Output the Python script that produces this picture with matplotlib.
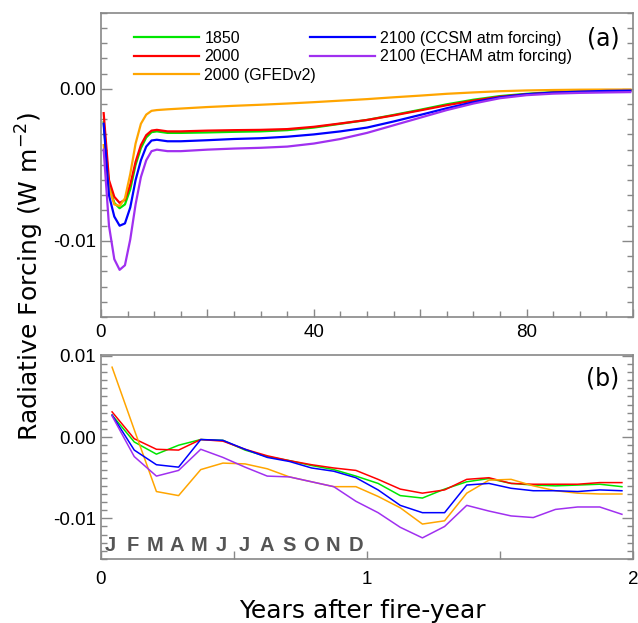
import numpy as np
import matplotlib
matplotlib.use("Agg")
import matplotlib.pyplot as plt
from matplotlib.ticker import FixedLocator, MultipleLocator
import matplotlib.transforms as mtransforms

plt.rcParams['axes.unicode_minus'] = False

# ---- panel (a): years after fire-year, forcing in W m-2 ----
years = [0.5, 1.5, 2.5, 3.5, 4.5, 5.5, 6.5, 7.5, 8.5, 9.5, 10.5, 12.5, 15, 20, 25,
         30, 35, 40, 45, 50, 55, 60, 65, 70, 75, 80, 85, 90, 95, 99.5]
rf_1850 = [-0.0022, -0.0064, -0.0075, -0.00785, -0.0076, -0.0066, -0.0050, -0.0039, -0.0032, -0.00285,
           -0.0028, -0.0029, -0.0029, -0.00287, -0.00283, -0.0028, -0.00272, -0.00255, -0.0023, -0.00205,
           -0.00172, -0.00138, -0.00102, -0.00072, -0.00048, -0.00033, -0.00022, -0.00016, -0.00012, -0.0001]
rf_2000 = [-0.0016, -0.0060, -0.0071, -0.0075, -0.0073, -0.0063, -0.0048, -0.0037, -0.00305, -0.00275,
           -0.0027, -0.0028, -0.0028, -0.00275, -0.00272, -0.0027, -0.00265, -0.0025, -0.00228, -0.00205,
           -0.00175, -0.00142, -0.00108, -0.00078, -0.00052, -0.00036, -0.00025, -0.00018, -0.00013, -0.0001]
rf_gfed = [-0.0037, -0.0065, -0.0076, -0.0077, -0.0072, -0.0056, -0.0036, -0.0023, -0.0017, -0.00145,
           -0.0014, -0.00135, -0.0013, -0.0012, -0.00112, -0.00105, -0.00097, -0.00088, -0.00078, -0.00068,
           -0.00056, -0.00045, -0.00033, -0.00024, -0.00016, -0.00011, -0.00008, -0.00006, -0.00005, -0.00005]
rf_ccsm = [-0.0023, -0.0070, -0.0084, -0.0090, -0.00885, -0.0078, -0.0060, -0.0047, -0.0038, -0.0034,
           -0.00335, -0.00345, -0.00345, -0.00338, -0.0033, -0.00325, -0.00315, -0.0030, -0.0028, -0.00255,
           -0.00215, -0.00172, -0.00128, -0.00088, -0.00056, -0.00036, -0.00025, -0.00019, -0.00014, -0.00012]
rf_echam = [-0.0040, -0.0090, -0.0112, -0.0119, -0.0116, -0.0099, -0.0076, -0.0058, -0.0047, -0.0041,
            -0.0040, -0.0041, -0.0041, -0.0040, -0.00393, -0.00388, -0.0038, -0.0036, -0.0033, -0.0029,
            -0.0024, -0.0019, -0.0014, -0.00097, -0.00062, -0.00042, -0.00032, -0.00027, -0.00024, -0.00022]

# ---- panel (b): monthly values over the first two years (x 1e-3 W m-2) ----
month_idx = np.arange(24)
months_x = (month_idx + 0.5) / 12.0
mo_1850 = [2.7, -0.6, -2.1, -1.0, -0.3, -0.4, -1.6, -2.4, -2.9, -3.5, -4.0, -4.8,
           -5.7, -7.2, -7.5, -6.4, -5.5, -5.1, -5.7, -5.9, -6.0, -5.9, -5.8, -6.1]
mo_2000 = [3.1, -0.2, -1.5, -1.6, -0.3, -0.5, -1.5, -2.3, -2.9, -3.4, -3.8, -4.1,
           -5.2, -6.4, -6.9, -6.5, -5.2, -5.0, -5.7, -5.8, -5.8, -5.8, -5.6, -5.6]
mo_gfed = [8.6, 0.9, -6.7, -7.2, -4.0, -3.2, -3.3, -3.9, -4.9, -5.5, -6.1, -6.1,
           -7.3, -8.7, -10.7, -10.3, -6.9, -5.3, -5.2, -6.0, -6.6, -6.9, -7.0, -7.0]
mo_ccsm = [2.7, -1.6, -3.4, -3.7, -0.3, -0.4, -1.5, -2.5, -3.0, -3.8, -4.2, -5.0,
           -6.5, -8.4, -9.3, -9.3, -5.9, -5.7, -6.3, -6.6, -6.6, -6.7, -6.5, -6.6]
mo_echam = [2.6, -2.4, -4.8, -4.1, -1.5, -2.5, -3.7, -4.8, -4.9, -5.5, -6.1, -7.9,
            -9.3, -11.1, -12.4, -11.0, -8.4, -9.1, -9.7, -9.9, -8.9, -8.6, -8.6, -9.5]
month_letters = ['J', 'F', 'M', 'A', 'M', 'J', 'J', 'A', 'S', 'O', 'N', 'D']

labels = ['1850', '2000', '2000 (GFEDv2)', '2100 (CCSM atm forcing)', '2100 (ECHAM atm forcing)']
colors = ['#00e600', '#ff0000', '#ffa500', '#0000ff', '#a030f0']

annual = [rf_1850, rf_2000, rf_gfed, rf_ccsm, rf_echam]
monthly = [mo_1850, mo_2000, mo_gfed, mo_ccsm, mo_echam]

fig = plt.figure(figsize=(6.38, 6.23), dpi=100)
ax1 = fig.add_axes([101/638, 1-317/623, 532/638, 304.3/623])
ax2 = fig.add_axes([101/638, 1-559/623, 532/638, 204/623])

tickfont = 'Liberation Sans'
spine_col = '#888888'


def style(ax):
    for s in ax.spines.values():
        s.set_color(spine_col)
        s.set_linewidth(1.2)
    ax.tick_params(which='both', direction='in', color=spine_col, left=True, right=True,
                   top=False, bottom=True, labelsize=13.5, width=1.0)
    ax.tick_params(which='major', length=8)
    ax.tick_params(which='minor', length=4)
    for lab in ax.get_xticklabels() + ax.get_yticklabels():
        lab.set_family(tickfont)


# panel (a)
for vals, c, lab in zip(annual, colors, labels):
    ax1.plot(years, vals, color=c, lw=1.6, label=lab)
ax1.set_xlim(0, 100)
ax1.set_ylim(-0.015, 0.005)
ax1.xaxis.set_major_locator(FixedLocator([0, 20, 40, 60, 80, 100]))
ax1.set_xticklabels(['0', '', '40', '', '80', ''])
ax1.xaxis.set_minor_locator(MultipleLocator(5))
ax1.yaxis.set_major_locator(FixedLocator([-0.01, 0.0]))
ax1.set_yticklabels(['-0.01', '0.00'])
ax1.yaxis.set_minor_locator(MultipleLocator(0.001))
style(ax1)
ax1.tick_params(axis='x', which='major', length=6, pad=5)
ax1.text(0.974, 0.914, '(a)', transform=ax1.transAxes, ha='right', va='center', fontsize=17)
ax1.legend(loc='upper left', bbox_to_anchor=(0.062, 0.94), ncol=2, frameon=False,
           prop={'family': 'Liberation Sans', 'size': 11.5}, handlelength=4.1,
           handletextpad=0.3, columnspacing=-0.4, labelspacing=0.22,
           borderpad=0, borderaxespad=0)

# panel (b)
for vals, c in zip(monthly, colors):
    ax2.plot(months_x, np.array(vals) * 1e-3, color=c, lw=1.1)
ax2.set_xlim(0, 2)
ax2.set_ylim(-0.015, 0.0101)
ax2.xaxis.set_major_locator(FixedLocator([0, 0.5, 1, 1.5, 2]))
ax2.set_xticklabels(['0', '', '1', '', '2'])
ax2.yaxis.set_major_locator(FixedLocator([-0.01, 0.0, 0.01]))
ax2.set_yticklabels(['-0.01', '0.00', '0.01'])
ax2.yaxis.set_minor_locator(MultipleLocator(0.001))
style(ax2)
ax2.tick_params(axis='x', which='major', length=6, pad=9)
ax2.text(0.974, 0.887, '(b)', transform=ax2.transAxes, ha='right', va='center', fontsize=17)
trans = mtransforms.blended_transform_factory(ax2.transData, ax2.transAxes)
for i, m in enumerate(month_letters):
    ax2.text(0.034 + 0.0839 * i, 0.066, m, transform=trans, ha='center', va='center',
             fontsize=14.5, fontweight='bold', color='#555555', family='Liberation Sans')

fig.text(30/638, 1-276/623, 'Radiative Forcing (W m$^{-2}$)', rotation=90,
         ha='center', va='center', fontsize=18)
fig.text(362/638, 1-618/623, 'Years after fire-year', ha='center', va='baseline', fontsize=18)

fig.savefig('out.png', dpi=100)
